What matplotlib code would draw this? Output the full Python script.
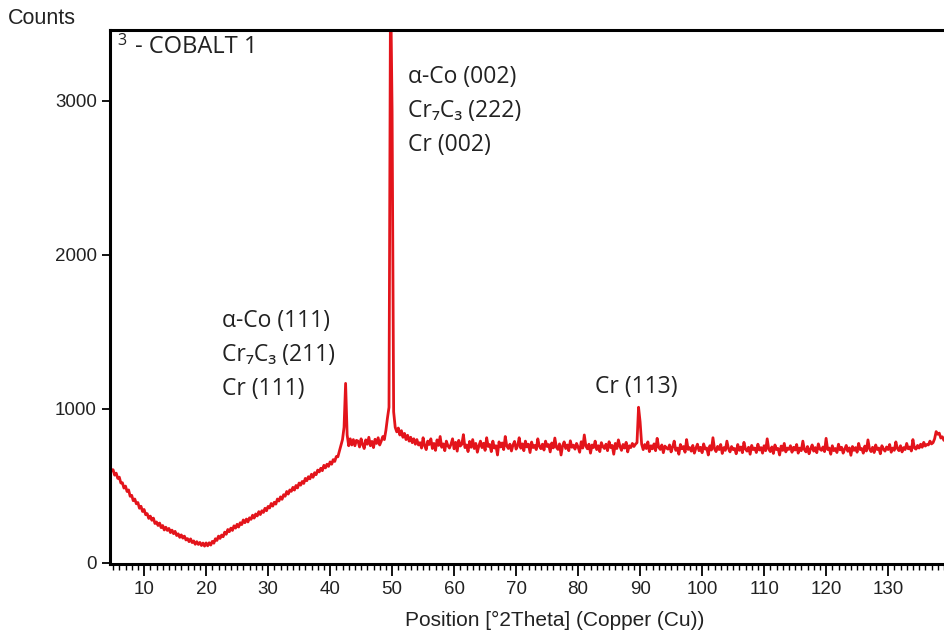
import numpy as np
import matplotlib.pyplot as plt
from matplotlib.ticker import MultipleLocator

# scan: 2theta starts at 4.5 deg, 0.25 deg per point
scan_start = 4.5
scan_step = 0.25
counts = [
    630, 596, 604, 569, 582, 548, 556, 518, 520, 485, 498, 463, 473, 432, 438, 403, 414, 383, 391, 354,
    367, 333, 346, 312, 319, 288, 303, 276, 290, 255, 265, 242, 258, 228, 242, 213, 231, 210, 223, 196,
    212, 189, 204, 177, 188, 165, 181, 160, 173, 148, 157, 137, 155, 131, 142, 120, 137, 119, 132, 112,
    128, 108, 129, 110, 130, 115, 139, 127, 156, 145, 173, 158, 180, 169, 199, 185, 216, 202, 225, 210,
    240, 225, 250, 232, 260, 248, 278, 260, 284, 265, 292, 282, 309, 290, 317, 304, 332, 313, 338, 327,
    354, 338, 366, 356, 385, 368, 393, 381, 414, 401, 428, 412, 442, 432, 463, 446, 473, 464, 490, 472,
    502, 486, 518, 504, 528, 515, 548, 533, 559, 545, 575, 555, 585, 572, 602, 590, 614, 598, 633, 616,
    640, 626, 655, 640, 670, 658, 690, 688, 725, 760, 800, 880, 1165, 830, 760, 805, 765, 800, 760, 795,
    790, 752, 805, 768, 742, 798, 770, 815, 760, 788, 748, 802, 775, 812, 765, 790, 820, 800, 860, 940,
    1010, 3800, 2930, 980, 880, 850, 875, 830, 858, 815, 840, 800, 828, 790, 815, 780, 805, 770, 800, 765,
    780, 745, 812, 760, 735, 790, 768, 805, 742, 775, 730, 798, 762, 820, 750, 772, 728, 790, 760, 745,
    770, 805, 740, 782, 725, 795, 758, 770, 832, 748, 765, 722, 788, 750, 800, 742, 775, 718, 760, 790,
    748, 776, 730, 812, 755, 768, 722, 790, 745, 760, 700, 785, 752, 778, 735, 820, 758, 742, 770, 726,
    765, 788, 738, 760, 812, 744, 772, 728, 790, 752, 770, 716, 784, 748, 762, 735, 805, 756, 741, 770,
    732, 790, 755, 768, 720, 778, 746, 810, 750, 736, 772, 700, 760, 785, 742, 765, 728, 792, 750, 764,
    738, 775, 752, 718, 786, 745, 830, 758, 740, 770, 712, 765, 748, 790, 735, 760, 722, 780, 754, 742,
    770, 728, 786, 748, 762, 705, 775, 742, 798, 756, 730, 768, 745, 782, 720, 760, 748, 775, 755, 770,
    780, 1010, 915, 770, 735, 768, 742, 785, 722, 760, 740, 772, 728, 808, 750, 736, 765, 715, 758, 745,
    738, 765, 720, 752, 790, 730, 745, 705, 768, 740, 755, 718, 800, 736, 748, 725, 762, 712, 744, 770,
    728, 750, 715, 772, 738, 745, 700, 760, 732, 812, 740, 722, 756, 735, 768, 710, 748, 730, 790, 742,
    720, 755, 735, 742, 708, 768, 730, 752, 715, 782, 738, 725, 750, 705, 762, 735, 745, 716, 770, 732,
    748, 712, 760, 728, 805, 738, 722, 752, 710, 765, 735, 742, 700, 758, 730, 775, 720, 745, 736, 760,
    718, 750, 732, 768, 712, 745, 728, 790, 735, 720, 755, 708, 740, 765, 725, 748, 715, 772, 738, 730,
    752, 722, 808, 735, 745, 705, 760, 728, 742, 716, 770, 733, 750, 712, 738, 762, 724, 746, 698, 755,
    730, 748, 718, 775, 735, 742, 712, 758, 726, 798, 740, 722, 750, 716, 765, 735, 745, 708, 760, 738,
    725, 752, 735, 768, 718, 745, 730, 785, 742, 728, 760, 720, 748, 735, 775, 740, 752, 726, 800, 745,
    738, 762, 745, 770, 750, 782, 758, 768, 765, 790, 772, 780, 805, 852, 835, 842, 810, 818, 795, 805,
]
two_theta = scan_start + scan_step * np.arange(len(counts))

# peak labels: 2theta of the left edge, counts of the first line, the lines
label_x = [52.6, 22.6, 82.7]
label_top = [3154, 1570, 1141]
label_lines = [
    ['\u03b1-Co (002)', 'Cr\u2087C\u2083 (222)', 'Cr (002)'],
    ['\u03b1-Co (111)', 'Cr\u2087C\u2083 (211)', 'Cr (111)'],
    ['Cr (113)'],
]
line_gap = 221

x_ticks = [10, 20, 30, 40, 50, 60, 70, 80, 90, 100, 110, 120, 130]
y_ticks = [0, 1000, 2000, 3000]

tick_font = 'Liberation Sans'
note_font = ['Open Sans', 'DejaVu Sans']
ink = '#222222'

fig = plt.figure(figsize=(9.44, 6.42), dpi=100)
ax = fig.add_axes([110 / 944, 78 / 642, (140 - 4.5) * 6.2 / 944, 534 / 642])

ax.plot(two_theta, counts, color='#e3141b', lw=2.0)

ax.set_xlim(4.5, 140)
ax.set_ylim(-8, 3460)

ax.set_xticks(x_ticks)
ax.xaxis.set_minor_locator(MultipleLocator(1))
ax.set_yticks(y_ticks)

for s in ['left', 'bottom', 'top']:
    ax.spines[s].set_linewidth(2.2)
ax.spines['right'].set_visible(False)

ax.tick_params(axis='x', which='major', direction='out', length=8.5, width=1.3, pad=4,
               labelsize=13.5, labelcolor=ink)
ax.tick_params(axis='x', which='minor', direction='out', length=4.2, width=1.0)
ax.tick_params(axis='y', which='major', direction='out', length=5.5, width=1.3, pad=4,
               labelsize=13.5, labelcolor=ink)
for lab in ax.get_xticklabels() + ax.get_yticklabels():
    lab.set_family(tick_font)

# sample name in the top left corner
ax.text(5.6, 3440, '3', family=note_font, fontsize=11.5, va='top', ha='left', color=ink)
ax.text(8.6, 3425, '- COBALT 1', family=note_font, fontsize=17, va='top', ha='left', color=ink)

for x0, top, lines in zip(label_x, label_top, label_lines):
    for i, line in enumerate(lines):
        ax.text(x0, top - i * line_gap, line, family=note_font, fontsize=16.5,
                va='center', ha='left', color=ink)

fig.text(8 / 944, 1 - 18 / 642, 'Counts', family=tick_font, fontsize=15.5,
         va='center', ha='left', color=ink)
fig.text(555 / 944, 1 - 620 / 642, 'Position [\u00b02Theta] (Copper (Cu))', family=tick_font,
         fontsize=15, va='center', ha='center', color=ink)

fig.savefig('out.png', dpi=100)
